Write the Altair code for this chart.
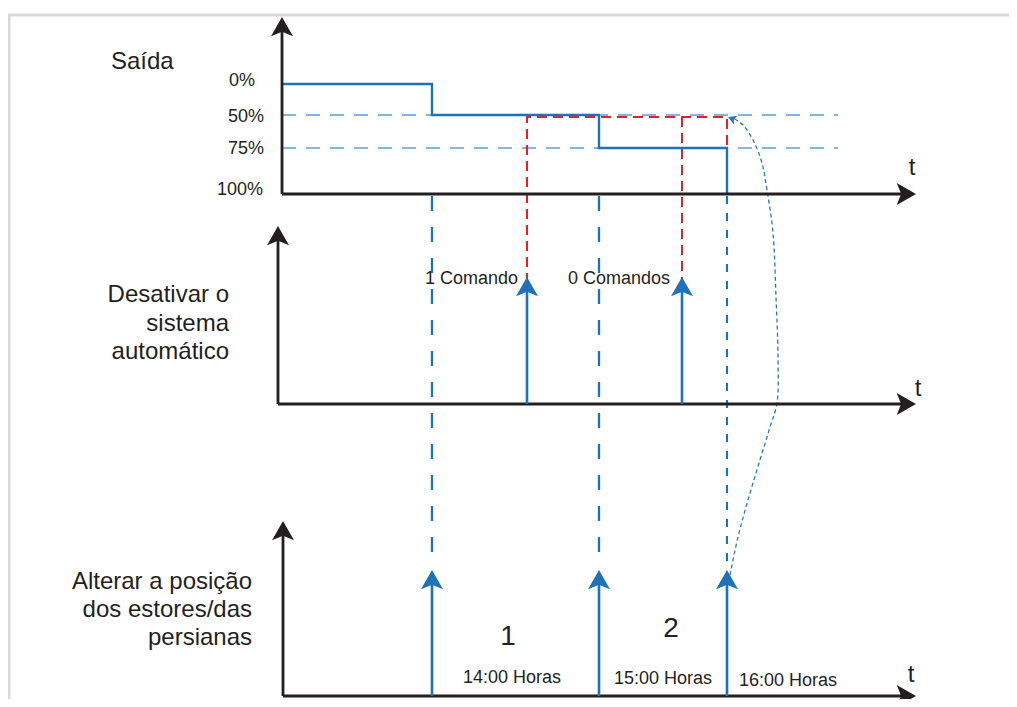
import altair as alt
import pandas as pd

# ---------------- data (diagram units = reference pixel positions) ----------------
# three stacked panels: y-axis x position, arrow tip (top), time-axis level
panel_axis_x = [282, 278, 283]
panel_axis_top = [17, 226, 521]
panel_axis_base = [194, 404, 696]
time_axis_end = [916, 916, 916]

# output levels of panel "Saída"
level_labels = ["0%", "50%", "75%", "100%"]
level_y = [84, 115, 148, 194]

# blind position change events (14:00, 15:00, 16:00) and disable commands
change_times = [432, 599, 727]
change_labels = ["14:00 Horas", "15:00 Horas", "16:00 Horas"]
command_times = [527, 682]
command_labels = ["1 Comando", "0 Comandos"]

# stepped output curve
step_x = [282, 432, 432, 599, 599, 727, 727]
step_y = [84, 84, 115, 115, 148, 148, 194]

# red dashed (expected output with the commands)
red_x = [527, 527, 727, 727]
red_y = [283, 117, 117, 148]
red2_x = [682, 682]
red2_y = [117, 283]

# dotted return curve from 16:00 back to 50%
curve_x = [730, 738, 748, 760, 770, 777, 778, 776, 773, 767, 762, 753, 743, 733]
curve_y = [575, 537, 500, 460, 427, 403, 357, 297, 233, 190, 163, 140, 125, 118]

BLACK = "#231f20"
BLUE = "#1f71b8"
LBLUE = "#5b9bd5"
RED = "#ee1c25"
GRAY = "#d9d9d9"
FONT = "Liberation Sans"

ARROW = "M0,0 L1,1.75 L0,1.35 L-1,1.75 Z"

xs = alt.Scale(domain=[8, 1009], nice=False, zero=False)
ys = alt.Scale(domain=[8, 699], nice=False, zero=False, reverse=True)


def X(f="x"):
    return alt.X(f"{f}:Q", scale=xs, axis=None)


def Y(f="y"):
    return alt.Y(f"{f}:Q", scale=ys, axis=None)


def X2(f="x2"):
    return alt.X2(f"{f}:Q")


def Y2(f="y2"):
    return alt.Y2(f"{f}:Q")


layers = []

# frame
frame = pd.DataFrame({"x": [8, 9], "x2": [1017, 9], "y": [15, 15], "y2": [15, 707]})
layers.append(alt.Chart(frame).mark_rule(color=GRAY, strokeWidth=3).encode(
    x=X(), x2=X2(), y=Y(), y2=Y2()))

# light dashed reference levels (50 %, 75 %)
ref = pd.DataFrame({"x": [282, 282], "x2": [838, 838], "y": level_y[1:3], "y2": level_y[1:3]})
layers.append(alt.Chart(ref).mark_rule(color=LBLUE, strokeWidth=1.3, strokeDash=[14, 10]).encode(
    x=X(), x2=X2(), y=Y(), y2=Y2()))

# blue dashed verticals linking the events
vd = pd.DataFrame({"x": change_times[:2], "x2": change_times[:2], "y": [196, 196], "y2": [566, 566]})
layers.append(alt.Chart(vd).mark_rule(color=BLUE, strokeWidth=2.3, strokeDash=[15, 16]).encode(
    x=X(), x2=X2(), y=Y(), y2=Y2()))
vd2 = pd.DataFrame({"x": [change_times[2]], "x2": [change_times[2]], "y": [196], "y2": [566]})
layers.append(alt.Chart(vd2).mark_rule(color=BLUE, strokeWidth=2.1, strokeDash=[8, 9]).encode(
    x=X(), x2=X2(), y=Y(), y2=Y2()))

# red dashed expected output
red = pd.DataFrame({"x": red_x + red2_x, "y": red_y + red2_y,
                    "seg": ["a"] * len(red_x) + ["b"] * len(red2_x),
                    "i": list(range(len(red_x))) + list(range(len(red2_x)))})
layers.append(alt.Chart(red).mark_line(color=RED, strokeWidth=2, strokeDash=[10, 6]).encode(
    x=X(), y=Y(), detail="seg:N", order="i:Q"))

# stepped output
step = pd.DataFrame({"x": step_x, "y": step_y, "i": list(range(len(step_x)))})
layers.append(alt.Chart(step).mark_line(color=BLUE, strokeWidth=2.4).encode(
    x=X(), y=Y(), order="i:Q"))

# dotted return curve
curve = pd.DataFrame({"x": curve_x, "y": curve_y, "i": list(range(len(curve_x)))})
layers.append(alt.Chart(curve).mark_line(color="#2e75b6", strokeWidth=1.3, strokeDash=[4, 3],
                                         interpolate="catmull-rom").encode(
    x=X(), y=Y(), order="i:Q"))
tip = pd.DataFrame({"x": [728], "y": [117], "a": [292]})
layers.append(alt.Chart(tip).mark_point(shape=ARROW, filled=True, opacity=1, size=90,
                                        color="#2e75b6", strokeWidth=0).encode(
    x=X(), y=Y(), angle=alt.Angle("a:Q", scale=None)))

# axes (black)
ax_v = pd.DataFrame({"x": panel_axis_x, "x2": panel_axis_x,
                     "y": [t + 12 for t in panel_axis_top], "y2": panel_axis_base})
ax_h = pd.DataFrame({"x": panel_axis_x, "x2": [e - 12 for e in time_axis_end],
                     "y": panel_axis_base, "y2": panel_axis_base})
for d in (ax_v, ax_h):
    layers.append(alt.Chart(d).mark_rule(color=BLACK, strokeWidth=2.8).encode(
        x=X(), x2=X2(), y=Y(), y2=Y2()))
heads = pd.DataFrame({"x": panel_axis_x + time_axis_end,
                      "y": panel_axis_top + panel_axis_base,
                      "a": [0, 0, 0, 90, 90, 90]})
layers.append(alt.Chart(heads).mark_point(shape=ARROW, filled=True, opacity=1, size=484,
                                          color=BLACK, strokeWidth=0).encode(
    x=X(), y=Y(), angle=alt.Angle("a:Q", scale=None)))

# blue event arrows
ev_x = command_times + change_times
ev_base = [404, 404, 696, 696, 696]
ev_tip = [277, 277, 570, 570, 570]
ev = pd.DataFrame({"x": ev_x, "x2": ev_x, "y": [t + 12 for t in ev_tip], "y2": ev_base})
layers.append(alt.Chart(ev).mark_rule(color=BLUE, strokeWidth=2.6).encode(
    x=X(), x2=X2(), y=Y(), y2=Y2()))
evh = pd.DataFrame({"x": ev_x, "y": ev_tip})
layers.append(alt.Chart(evh).mark_point(shape=ARROW, filled=True, opacity=1, size=484,
                                        color=BLUE, strokeWidth=0).encode(x=X(), y=Y()))

# ---------------- texts ----------------
def text_layer(labels, xv, yv, size, align):
    d = pd.DataFrame({"x": xv, "y": yv, "t": labels})
    return alt.Chart(d).mark_text(font=FONT, fontSize=size, align=align, baseline="alphabetic",
                                  color=BLACK).encode(x=X(), y=Y(), text="t:N")


title_labels = ["Desativar o", "sistema", "automático",
                "Alterar a posição", "dos estores/das", "persianas"]
title_x = [229, 229, 229, 252, 252, 252]
title_y = [302, 331, 359, 589, 617, 645]
layers.append(text_layer(title_labels, title_x, title_y, 24, "right"))
layers.append(text_layer(["Saída"], [111], [69], 24, "left"))
layers.append(text_layer(level_labels, [255, 264, 264, 263], [86, 122, 154, 195], 18, "right"))
layers.append(text_layer(command_labels, [425, 568], [284, 284], 18, "left"))
layers.append(text_layer(change_labels, [512, 663, 788], [683, 684, 686], 18, "center"))
layers.append(text_layer(["1", "2"], [508, 671], [645, 637], 28, "center"))
layers.append(text_layer(["t", "t", "t"], [912, 918, 911], [175, 396, 682], 24, "center"))

chart = alt.layer(*layers).properties(
    width=1001, height=691, padding=0, autosize=alt.AutoSizeParams(type="none")
).configure_view(stroke=None)

chart.save("out.html", embed_options={"renderer": "svg", "actions": False})
